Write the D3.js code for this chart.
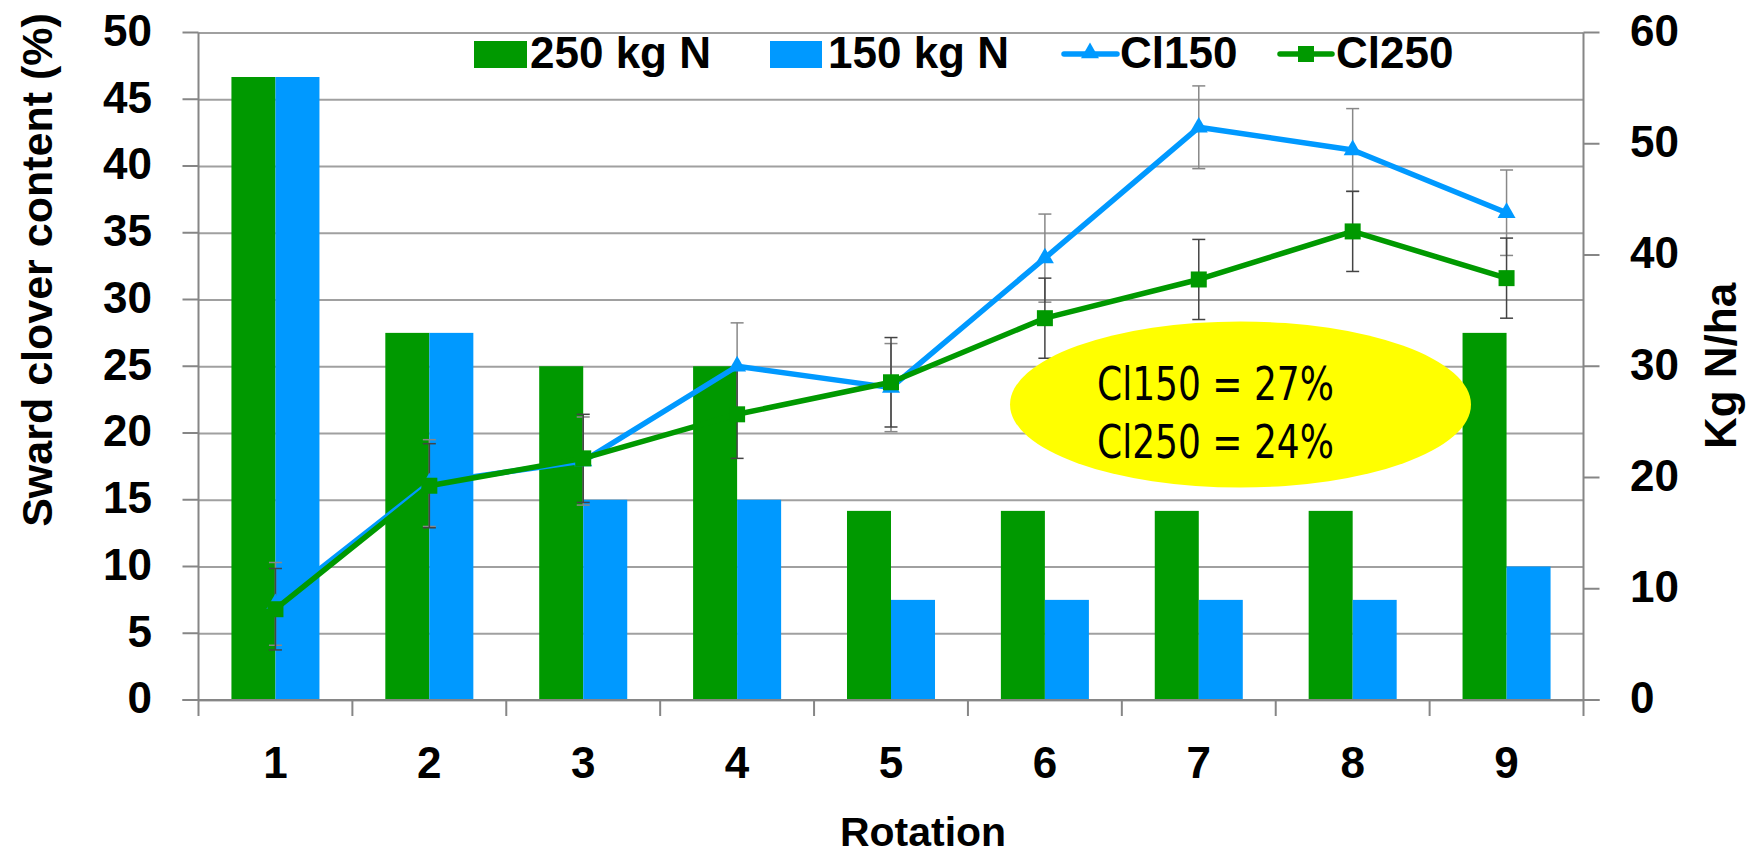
<!DOCTYPE html>
<html>
<head>
<meta charset="utf-8">
<script src="https://cdn.jsdelivr.net/npm/d3@7"></script>
<style>
  html, body { margin: 0; padding: 0; background: #fff; }
  svg { display: block; }
  .bold { font-family: "Liberation Sans", Arial, sans-serif; font-weight: bold; }
  .narrow { font-family: "Liberation Sans Narrow", "DejaVu Sans Condensed", "Liberation Sans", sans-serif; }
</style>
</head>
<body>
<svg id="chart" width="1755" height="858"></svg>
<script>
// ---- data ----
const categories = ["1", "2", "3", "4", "5", "6", "7", "8", "9"];
const n250 = [56, 33, 30, 30, 17, 17, 17, 17, 33];   // Kg N/ha, 250 kg N treatment
const n150 = [56, 33, 18, 18, 9, 9, 9, 9, 12];       // Kg N/ha, 150 kg N treatment
const cl150 = [7.2, 16.25, 17.9, 25.0, 23.4, 33.1, 42.9, 41.2, 36.5];   // clover %
const cl150Err = [3.1, 3.25, 3.3, 3.25, 3.3, 3.3, 3.1, 3.1, 3.2];
const cl250 = [6.8, 16.05, 18.1, 21.4, 23.8, 28.6, 31.5, 35.1, 31.6];
const cl250Err = [3.05, 3.15, 3.3, 3.3, 3.35, 3.0, 3.0, 3.0, 3.0];
const leftTicks = [0, 5, 10, 15, 20, 25, 30, 35, 40, 45, 50];
const rightTicks = [0, 10, 20, 30, 40, 50, 60];
const legendLabels = ["250 kg N", "150 kg N", "Cl150", "Cl250"];
const noteLines = ["Cl150 = 27%", "Cl250 = 24%"];
const xTitle = "Rotation";
const yLeftTitle = "Sward clover content (%)";
const yRightTitle = "Kg N/ha";

// ---- layout ----
const W = 1755, H = 858;
const plot = { left: 198.5, right: 1583.5, top: 32.5, bottom: 700 };
const GREEN = "#009900", BLUE = "#0099FF";
const GRID = "#a0a0a0", AXIS = "#868686";

const svg = d3.select("#chart");
svg.append("rect").attr("width", W).attr("height", H).attr("fill", "#fff");

const x = d3.scaleBand().domain(categories).range([plot.left, plot.right])
  .paddingInner(0.428).paddingOuter(0.214);
const x1 = d3.scaleBand().domain(["n250", "n150"]).range([0, x.bandwidth()]).padding(0);
const yL = d3.scaleLinear().domain([0, 50]).range([plot.bottom, plot.top]);
const yR = d3.scaleLinear().domain([0, 60]).range([plot.bottom, plot.top]);
const cx = c => x(c) + x.bandwidth() / 2;

// gridlines (left axis)
const gLeft = svg.append("g").attr("transform", `translate(${plot.left},0)`)
  .call(d3.axisLeft(yL).tickValues(leftTicks).tickSize(-(plot.right - plot.left)).tickSizeOuter(0).tickPadding(0).tickFormat(""));
gLeft.select(".domain").remove();
gLeft.selectAll(".tick line").attr("stroke", GRID).attr("stroke-width", 2);
// short outward ticks on left
svg.append("g").selectAll("line").data(leftTicks).join("line")
  .attr("x1", plot.left - 16).attr("x2", plot.left)
  .attr("y1", d => yL(d)).attr("y2", d => yL(d))
  .attr("stroke", AXIS).attr("stroke-width", 2);
// left tick labels
svg.append("g").attr("class", "bold").selectAll("text").data(leftTicks).join("text")
  .attr("x", 152).attr("y", d => yL(d) - 2).attr("dy", "0.35em")
  .attr("text-anchor", "end").attr("font-size", 44).attr("fill", "#000")
  .text(d => d);

// bars
const groups = svg.append("g").selectAll("g").data(categories).join("g")
  .attr("transform", c => `translate(${x(c)},0)`);
groups.append("rect")
  .attr("x", x1("n250")).attr("width", x1.bandwidth())
  .attr("y", (c, i) => yR(n250[i])).attr("height", (c, i) => yR(0) - yR(n250[i]))
  .attr("fill", GREEN);
groups.append("rect")
  .attr("x", x1("n150")).attr("width", x1.bandwidth())
  .attr("y", (c, i) => yR(n150[i])).attr("height", (c, i) => yR(0) - yR(n150[i]))
  .attr("fill", BLUE);

// axes lines
svg.append("line").attr("x1", plot.left).attr("x2", plot.left).attr("y1", plot.top).attr("y2", plot.bottom + 16)
  .attr("stroke", AXIS).attr("stroke-width", 2);
svg.append("line").attr("x1", plot.right).attr("x2", plot.right).attr("y1", plot.top).attr("y2", plot.bottom + 16)
  .attr("stroke", AXIS).attr("stroke-width", 2);
svg.append("line").attr("x1", plot.left - 16).attr("x2", plot.right + 16).attr("y1", plot.bottom).attr("y2", plot.bottom)
  .attr("stroke", AXIS).attr("stroke-width", 2);

// x axis category ticks (boundaries)
const bounds = categories.map(c => x(c) - x.step() * x.paddingInner() / 2);
svg.append("g").selectAll("line").data(bounds.slice(1)).join("line")
  .attr("x1", d => d).attr("x2", d => d).attr("y1", plot.bottom).attr("y2", plot.bottom + 16)
  .attr("stroke", AXIS).attr("stroke-width", 2);
svg.append("g").attr("class", "bold").selectAll("text").data(categories).join("text")
  .attr("x", c => cx(c)).attr("y", 778).attr("text-anchor", "middle")
  .attr("font-size", 44).attr("fill", "#000").text(c => c);

// right axis ticks + labels
svg.append("g").selectAll("line").data(rightTicks).join("line")
  .attr("x1", plot.right).attr("x2", plot.right + 16)
  .attr("y1", d => yR(d)).attr("y2", d => yR(d))
  .attr("stroke", AXIS).attr("stroke-width", 2);
svg.append("g").attr("class", "bold").selectAll("text").data(rightTicks).join("text")
  .attr("x", 1630).attr("y", d => yR(d) - 2).attr("dy", "0.35em")
  .attr("text-anchor", "start").attr("font-size", 44).attr("fill", "#000")
  .text(d => d);

// error bars
function errorBars(vals, errs, color) {
  const g = svg.append("g").attr("stroke", color).attr("stroke-width", 1.5).attr("fill", "none");
  categories.forEach((c, i) => {
    const xc = cx(c), yt = yL(vals[i] + errs[i]), yb = yL(vals[i] - errs[i]);
    g.append("line").attr("x1", xc).attr("x2", xc).attr("y1", yt).attr("y2", yb);
    g.append("line").attr("x1", xc - 6.5).attr("x2", xc + 6.5).attr("y1", yt).attr("y2", yt);
    g.append("line").attr("x1", xc - 6.5).attr("x2", xc + 6.5).attr("y1", yb).attr("y2", yb);
  });
}
errorBars(cl150, cl150Err, "#888888");
errorBars(cl250, cl250Err, "#444444");

// lines
const line = d3.line().x((d, i) => cx(categories[i])).y(d => yL(d));
svg.append("path").datum(cl150).attr("d", line).attr("fill", "none")
  .attr("stroke", BLUE).attr("stroke-width", 5.5).attr("stroke-linejoin", "round");
svg.append("g").selectAll("path").data(cl150).join("path")
  .attr("transform", (d, i) => `translate(${cx(categories[i])},${yL(d)})`)
  .attr("d", d3.symbol(d3.symbolTriangle, 140)).attr("fill", BLUE);
svg.append("path").datum(cl250).attr("d", line).attr("fill", "none")
  .attr("stroke", GREEN).attr("stroke-width", 5.5).attr("stroke-linejoin", "round");
svg.append("g").selectAll("rect").data(cl250).join("rect")
  .attr("x", (d, i) => cx(categories[i]) - 8).attr("y", d => yL(d) - 8)
  .attr("width", 16).attr("height", 16).attr("fill", GREEN);

// legend
const leg = svg.append("g").attr("class", "bold").attr("font-size", 44).attr("fill", "#000");
leg.append("rect").attr("x", 474).attr("y", 41).attr("width", 53).attr("height", 27).attr("fill", GREEN);
leg.append("text").attr("x", 530).attr("y", 68).text(legendLabels[0]);
leg.append("rect").attr("x", 770).attr("y", 41).attr("width", 52).attr("height", 27).attr("fill", BLUE);
leg.append("text").attr("x", 828).attr("y", 68).text(legendLabels[1]);
leg.append("line").attr("x1", 1064).attr("x2", 1117).attr("y1", 54).attr("y2", 54)
  .attr("stroke", BLUE).attr("stroke-width", 5.5).attr("stroke-linecap", "round");
leg.append("path").attr("transform", "translate(1090,53)").attr("d", d3.symbol(d3.symbolTriangle, 140)).attr("fill", BLUE);
leg.append("text").attr("x", 1120).attr("y", 68).text(legendLabels[2]);
leg.append("line").attr("x1", 1280).attr("x2", 1332).attr("y1", 54).attr("y2", 54)
  .attr("stroke", GREEN).attr("stroke-width", 5.5).attr("stroke-linecap", "round");
leg.append("rect").attr("x", 1298).attr("y", 46).attr("width", 16).attr("height", 16).attr("fill", GREEN);
leg.append("text").attr("x", 1336).attr("y", 68).text(legendLabels[3]);

// annotation ellipse
svg.append("ellipse").attr("cx", 1240.5).attr("cy", 404.5).attr("rx", 230.5).attr("ry", 83)
  .attr("fill", "#FFFF00");
svg.append("g").attr("class", "narrow").attr("font-size", 46).attr("fill", "#000")
  .selectAll("text").data(noteLines).join("text")
  .attr("x", 1097).attr("y", (d, i) => 400 + i * 58).attr("text-anchor", "start")
  .attr("textLength", 237).attr("lengthAdjust", "spacingAndGlyphs")
  .text(d => d);

// axis titles
svg.append("text").attr("class", "bold").attr("font-size", 41).attr("text-anchor", "middle")
  .attr("x", 923).attr("y", 846).text(xTitle);
svg.append("text").attr("class", "bold").attr("font-size", 43).attr("text-anchor", "middle")
  .attr("transform", "translate(52,270) rotate(-90)").text(yLeftTitle);
svg.append("text").attr("class", "bold").attr("font-size", 44).attr("text-anchor", "middle")
  .attr("transform", "translate(1736,366) rotate(-90)").text(yRightTitle);
</script>
</body>
</html>
